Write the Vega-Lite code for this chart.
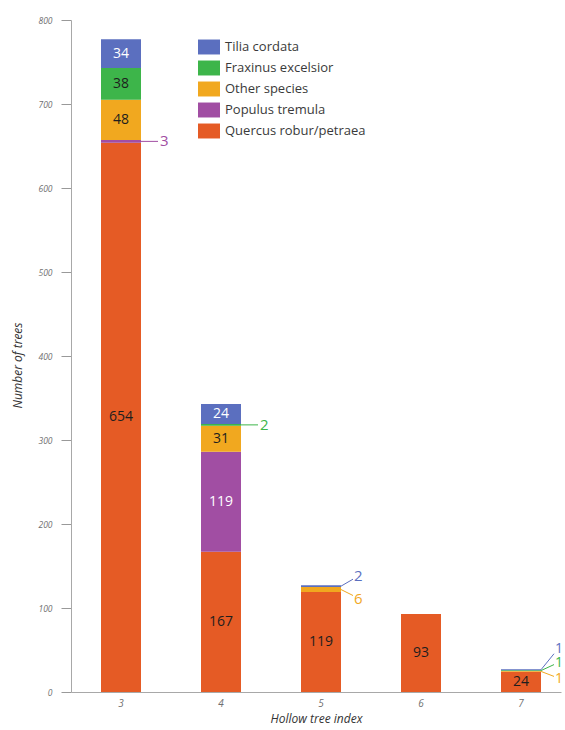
{
  "$schema": "https://vega.github.io/schema/vega-lite/v6.json",
  "width": 490,
  "height": 672,
  "autosize": {"type": "none"},
  "padding": {"left": 71, "top": 20, "right": 4, "bottom": 38},
  "config": {
    "view": {"stroke": null},
    "font": "Open Sans",
    "axis": {
      "grid": false,
      "zindex": 1,
      "domainColor": "#a8a8a8",
      "tickColor": "#999999",
      "labelFontStyle": "italic",
      "labelColor": "#707070",
      "labelFont": "Open Sans",
      "titleFont": "Open Sans",
      "titleFontStyle": "italic",
      "titleFontWeight": "normal",
      "titleColor": "#333",
      "titleFontSize": 12
    },
    "axisY": {"tickSize": 10, "labelFontSize": 8.5, "labelPadding": 9, "titleX": -47, "titleY": 345},
    "axisX": {"tickSize": -10, "labelFontSize": 10, "labelPadding": 16, "labelAngle": 0, "titlePadding": 5, "tickOffset": 50}
  },
  "data": {
    "values": [
      {"index": "3", "species": "Quercus robur/petraea", "n": 654},
      {"index": "3", "species": "Populus tremula", "n": 3},
      {"index": "3", "species": "Other species", "n": 48},
      {"index": "3", "species": "Fraxinus excelsior", "n": 38},
      {"index": "3", "species": "Tilia cordata", "n": 34},
      {"index": "4", "species": "Quercus robur/petraea", "n": 167},
      {"index": "4", "species": "Populus tremula", "n": 119},
      {"index": "4", "species": "Other species", "n": 31},
      {"index": "4", "species": "Fraxinus excelsior", "n": 2},
      {"index": "4", "species": "Tilia cordata", "n": 24},
      {"index": "5", "species": "Quercus robur/petraea", "n": 119},
      {"index": "5", "species": "Other species", "n": 6},
      {"index": "5", "species": "Tilia cordata", "n": 2},
      {"index": "6", "species": "Quercus robur/petraea", "n": 93},
      {"index": "7", "species": "Quercus robur/petraea", "n": 24},
      {"index": "7", "species": "Other species", "n": 1},
      {"index": "7", "species": "Fraxinus excelsior", "n": 1},
      {"index": "7", "species": "Tilia cordata", "n": 1}
    ]
  },
  "transform": [
    {"calculate": "indexof(['Quercus robur/petraea','Populus tremula','Other species','Fraxinus excelsior','Tilia cordata'], datum.species)", "as": "ord"},
    {"stack": "n", "groupby": ["index"], "sort": [{"field": "ord", "order": "ascending"}], "as": ["y0", "y1"]},
    {"calculate": "(datum.y0 + datum.y1) / 2", "as": "mid"}
  ],
  "layer": [
    {
      "mark": {"type": "bar"},
      "encoding": {
        "x": {"field": "index", "type": "nominal", "title": "Hollow tree index",
              "scale": {"paddingInner": 0.6, "paddingOuter": 0.25, "align": 0.6}},
        "y": {"field": "y1", "type": "quantitative", "title": "Number of trees",
              "scale": {"domain": [0, 800], "nice": false},
              "axis": {"values": [0, 100, 200, 300, 400, 500, 600, 700, 800], "encode": {"ticks": {"update": {"x2": {"value": 10}}}}}},
        "y2": {"field": "y0"},
        "color": {
          "field": "species", "type": "nominal",
          "scale": {
            "domain": ["Tilia cordata", "Fraxinus excelsior", "Other species", "Populus tremula", "Quercus robur/petraea"],
            "range": ["#5b6fbf", "#3db54a", "#f1a81f", "#a14ea3", "#e55b25"]
          },
          "legend": {
            "orient": "none", "legendX": 127, "legendY": 16, "title": null,
            "symbolType": "M-1,-0.68H1V0.68H-1Z", "symbolSize": 484, "symbolStrokeWidth": 0, "symbolOpacity": 1,
            "labelFontSize": 13, "labelColor": "#3a3a3a", "labelFont": "Open Sans", "labelOffset": 5, "rowPadding": 2
          }
        }
      }
    },
    {
      "transform": [{"filter": "datum.n >= 20"}],
      "mark": {"type": "text", "fontSize": 14, "baseline": "middle", "align": "center"},
      "encoding": {
        "x": {"field": "index", "type": "nominal", "title": "Hollow tree index"},
        "y": {"field": "mid", "type": "quantitative", "title": "Number of trees", "axis": {"values": [0, 100, 200, 300, 400, 500, 600, 700, 800], "encode": {"ticks": {"update": {"x2": {"value": 10}}}}}},
        "text": {"field": "n", "type": "quantitative"},
        "color": {"condition": {"test": "datum.species === 'Tilia cordata' || datum.species === 'Populus tremula'", "value": "#ffffff"}, "value": "#1e1e1e"}
      }
    },
    {
      "transform": [{"filter": "(datum.index === '3' && datum.species === 'Populus tremula') || (datum.index === '4' && datum.species === 'Fraxinus excelsior')"}],
      "mark": {"type": "rule", "x2Offset": 17, "strokeWidth": 1},
      "encoding": {
        "x": {"field": "index", "type": "nominal", "bandPosition": 1, "title": "Hollow tree index"},
        "x2": {"field": "index", "bandPosition": 1},
        "y": {"field": "mid", "type": "quantitative", "title": "Number of trees", "axis": {"values": [0, 100, 200, 300, 400, 500, 600, 700, 800], "encode": {"ticks": {"update": {"x2": {"value": 10}}}}}},
        "y2": {"field": "mid"},
        "color": {"field": "species", "type": "nominal"}
      }
    },
    {
      "transform": [{"filter": "(datum.index === '3' && datum.species === 'Populus tremula') || (datum.index === '4' && datum.species === 'Fraxinus excelsior')"}],
      "mark": {"type": "text", "fontSize": 15, "align": "left", "baseline": "middle", "xOffset": 19},
      "encoding": {
        "x": {"field": "index", "type": "nominal", "bandPosition": 1, "title": "Hollow tree index"},
        "y": {"field": "mid", "type": "quantitative", "title": "Number of trees", "axis": {"values": [0, 100, 200, 300, 400, 500, 600, 700, 800], "encode": {"ticks": {"update": {"x2": {"value": 10}}}}}},
        "text": {"field": "n", "type": "quantitative"},
        "color": {"field": "species", "type": "nominal"}
      }
    },
    {
      "transform": [{"filter": "datum.index === '5' && datum.species === 'Tilia cordata'"}],
      "mark": {"type": "rule", "x2Offset": 12, "y2Offset": -7},
      "encoding": {
        "x": {"field": "index", "type": "nominal", "bandPosition": 1, "title": "Hollow tree index"},
        "x2": {"field": "index", "bandPosition": 1},
        "y": {"field": "mid", "type": "quantitative", "title": "Number of trees", "axis": {"values": [0, 100, 200, 300, 400, 500, 600, 700, 800], "encode": {"ticks": {"update": {"x2": {"value": 10}}}}}},
        "y2": {"field": "mid"},
        "color": {"field": "species", "type": "nominal"}
      }
    },
    {
      "transform": [{"filter": "datum.index === '5' && datum.species === 'Tilia cordata'"}],
      "mark": {"type": "text", "fontSize": 15, "align": "left", "baseline": "middle", "xOffset": 13, "yOffset": -10},
      "encoding": {
        "x": {"field": "index", "type": "nominal", "bandPosition": 1, "title": "Hollow tree index"},
        "y": {"field": "mid", "type": "quantitative", "title": "Number of trees", "axis": {"values": [0, 100, 200, 300, 400, 500, 600, 700, 800], "encode": {"ticks": {"update": {"x2": {"value": 10}}}}}},
        "text": {"field": "n", "type": "quantitative"},
        "color": {"field": "species", "type": "nominal"}
      }
    },
    {
      "transform": [{"filter": "datum.index === '5' && datum.species === 'Other species'"}],
      "mark": {"type": "rule", "x2Offset": 12, "y2Offset": 6},
      "encoding": {
        "x": {"field": "index", "type": "nominal", "bandPosition": 1, "title": "Hollow tree index"},
        "x2": {"field": "index", "bandPosition": 1},
        "y": {"field": "mid", "type": "quantitative", "title": "Number of trees", "axis": {"values": [0, 100, 200, 300, 400, 500, 600, 700, 800], "encode": {"ticks": {"update": {"x2": {"value": 10}}}}}},
        "y2": {"field": "mid"},
        "color": {"field": "species", "type": "nominal"}
      }
    },
    {
      "transform": [{"filter": "datum.index === '5' && datum.species === 'Other species'"}],
      "mark": {"type": "text", "fontSize": 15, "align": "left", "baseline": "middle", "xOffset": 13, "yOffset": 9},
      "encoding": {
        "x": {"field": "index", "type": "nominal", "bandPosition": 1, "title": "Hollow tree index"},
        "y": {"field": "mid", "type": "quantitative", "title": "Number of trees", "axis": {"values": [0, 100, 200, 300, 400, 500, 600, 700, 800], "encode": {"ticks": {"update": {"x2": {"value": 10}}}}}},
        "text": {"field": "n", "type": "quantitative"},
        "color": {"field": "species", "type": "nominal"}
      }
    },
    {
      "transform": [{"filter": "datum.index === '7' && datum.species === 'Tilia cordata'"}],
      "mark": {"type": "rule", "x2Offset": 13, "y2Offset": -16},
      "encoding": {
        "x": {"field": "index", "type": "nominal", "bandPosition": 1, "title": "Hollow tree index"},
        "x2": {"field": "index", "bandPosition": 1},
        "y": {"field": "mid", "type": "quantitative", "title": "Number of trees", "axis": {"values": [0, 100, 200, 300, 400, 500, 600, 700, 800], "encode": {"ticks": {"update": {"x2": {"value": 10}}}}}},
        "y2": {"field": "mid"},
        "color": {"field": "species", "type": "nominal"}
      }
    },
    {
      "transform": [{"filter": "datum.index === '7' && datum.species === 'Tilia cordata'"}],
      "mark": {"type": "text", "fontSize": 14, "align": "left", "baseline": "middle", "xOffset": 14, "yOffset": -21},
      "encoding": {
        "x": {"field": "index", "type": "nominal", "bandPosition": 1, "title": "Hollow tree index"},
        "y": {"field": "mid", "type": "quantitative", "title": "Number of trees", "axis": {"values": [0, 100, 200, 300, 400, 500, 600, 700, 800], "encode": {"ticks": {"update": {"x2": {"value": 10}}}}}},
        "text": {"field": "n", "type": "quantitative"},
        "color": {"field": "species", "type": "nominal"}
      }
    },
    {
      "transform": [{"filter": "datum.index === '7' && datum.species === 'Fraxinus excelsior'"}],
      "mark": {"type": "rule", "x2Offset": 13, "y2Offset": -6},
      "encoding": {
        "x": {"field": "index", "type": "nominal", "bandPosition": 1, "title": "Hollow tree index"},
        "x2": {"field": "index", "bandPosition": 1},
        "y": {"field": "mid", "type": "quantitative", "title": "Number of trees", "axis": {"values": [0, 100, 200, 300, 400, 500, 600, 700, 800], "encode": {"ticks": {"update": {"x2": {"value": 10}}}}}},
        "y2": {"field": "mid"},
        "color": {"field": "species", "type": "nominal"}
      }
    },
    {
      "transform": [{"filter": "datum.index === '7' && datum.species === 'Fraxinus excelsior'"}],
      "mark": {"type": "text", "fontSize": 14, "align": "left", "baseline": "middle", "xOffset": 14, "yOffset": -8},
      "encoding": {
        "x": {"field": "index", "type": "nominal", "bandPosition": 1, "title": "Hollow tree index"},
        "y": {"field": "mid", "type": "quantitative", "title": "Number of trees", "axis": {"values": [0, 100, 200, 300, 400, 500, 600, 700, 800], "encode": {"ticks": {"update": {"x2": {"value": 10}}}}}},
        "text": {"field": "n", "type": "quantitative"},
        "color": {"field": "species", "type": "nominal"}
      }
    },
    {
      "transform": [{"filter": "datum.index === '7' && datum.species === 'Other species'"}],
      "mark": {"type": "rule", "x2Offset": 13, "y2Offset": 5},
      "encoding": {
        "x": {"field": "index", "type": "nominal", "bandPosition": 1, "title": "Hollow tree index"},
        "x2": {"field": "index", "bandPosition": 1},
        "y": {"field": "mid", "type": "quantitative", "title": "Number of trees", "axis": {"values": [0, 100, 200, 300, 400, 500, 600, 700, 800], "encode": {"ticks": {"update": {"x2": {"value": 10}}}}}},
        "y2": {"field": "mid"},
        "color": {"field": "species", "type": "nominal"}
      }
    },
    {
      "transform": [{"filter": "datum.index === '7' && datum.species === 'Other species'"}],
      "mark": {"type": "text", "fontSize": 14, "align": "left", "baseline": "middle", "xOffset": 14, "yOffset": 8},
      "encoding": {
        "x": {"field": "index", "type": "nominal", "bandPosition": 1, "title": "Hollow tree index"},
        "y": {"field": "mid", "type": "quantitative", "title": "Number of trees", "axis": {"values": [0, 100, 200, 300, 400, 500, 600, 700, 800], "encode": {"ticks": {"update": {"x2": {"value": 10}}}}}},
        "text": {"field": "n", "type": "quantitative"},
        "color": {"field": "species", "type": "nominal"}
      }
    }
  ]
}
